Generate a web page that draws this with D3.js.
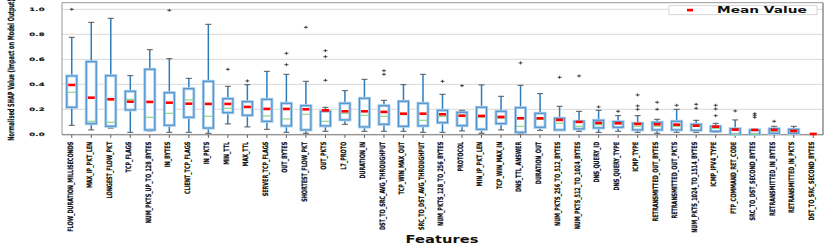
<!DOCTYPE html>
<html><head><meta charset="utf-8">
<script src="https://cdn.jsdelivr.net/npm/d3@7"></script>
<style>body{margin:0;background:#fff} svg{display:block}</style>
</head><body>
<svg id="chart" width="831" height="245"></svg>
<script>
const features = ["FLOW_DURATION_MILLISECONDS","MAX_IP_PKT_LEN","LONGEST_FLOW_PKT","TCP_FLAGS","NUM_PKTS_UP_TO_128_BYTES","IN_BYTES","CLIENT_TCP_FLAGS","IN_PKTS","MIN_TTL","MAX_TTL","SERVER_TCP_FLAGS","OUT_BYTES","SHORTEST_FLOW_PKT","OUT_PKTS","L7_PROTO","DURATION_IN","DST_TO_SRC_AVG_THROUGHPUT","TCP_WIN_MAX_OUT","SRC_TO_DST_AVG_THROUGHPUT","NUM_PKTS_128_TO_256_BYTES","PROTOCOL","MIN_IP_PKT_LEN","TCP_WIN_MAX_IN","DNS_TTL_ANSWER","DURATION_OUT","NUM_PKTS_256_TO_512_BYTES","NUM_PKTS_512_TO_1024_BYTES","DNS_QUERY_ID","DNS_QUERY_TYPE","ICMP_TYPE","RETRANSMITTED_OUT_BYTES","RETRANSMITTED_OUT_PKTS","NUM_PKTS_1024_TO_1514_BYTES","ICMP_IPV4_TYPE","FTP_COMMAND_RET_CODE","SRC_TO_DST_SECOND_BYTES","RETRANSMITTED_IN_BYTES","RETRANSMITTED_IN_PKTS","DST_TO_SRC_SECOND_BYTES"];
const whiskerLow  = [0.072,0.035,0.050,0.016,0.027,0.016,0.016,0.008,0.083,0.059,0.040,0.016,0.008,0.024,0.080,0.024,0.024,0.024,0.016,0.016,0.027,0.008,0.035,0.003,0.032,0.032,0.024,0.016,0.024,0.016,0.008,0.016,0.016,0.016,0.000,0.000,0.008,0.008,0.000];
const q1          = [0.216,0.085,0.064,0.195,0.035,0.072,0.136,0.050,0.173,0.152,0.104,0.067,0.035,0.067,0.115,0.059,0.080,0.064,0.067,0.093,0.069,0.040,0.085,0.016,0.056,0.035,0.043,0.051,0.056,0.035,0.035,0.035,0.032,0.024,0.000,0.000,0.008,0.008,0.000];
const medians     = [0.336,0.104,0.096,0.280,0.136,0.168,0.275,0.144,0.208,0.216,0.147,0.123,0.160,0.104,0.168,0.152,0.144,0.157,0.112,0.144,0.149,0.136,0.128,0.064,0.120,0.088,0.064,0.077,0.088,0.064,0.064,0.064,0.072,0.048,0.000,0.000,0.024,0.024,0.000];
const q3          = [0.467,0.581,0.469,0.344,0.520,0.333,0.365,0.424,0.285,0.261,0.280,0.248,0.229,0.184,0.248,0.288,0.229,0.264,0.248,0.192,0.176,0.216,0.184,0.213,0.168,0.128,0.104,0.112,0.101,0.088,0.096,0.104,0.080,0.064,0.045,0.035,0.045,0.040,0.000];
const whiskerHigh = [0.776,0.896,0.928,0.469,0.677,0.605,0.448,0.880,0.384,0.397,0.504,0.480,0.424,0.216,0.349,0.440,0.272,0.397,0.480,0.320,0.192,0.395,0.304,0.392,0.325,0.224,0.184,0.192,0.149,0.149,0.120,0.200,0.112,0.088,0.115,0.035,0.064,0.064,0.000];
const means       = [0.395,0.293,0.280,0.261,0.259,0.253,0.245,0.243,0.243,0.219,0.203,0.203,0.200,0.192,0.184,0.184,0.179,0.165,0.165,0.160,0.149,0.147,0.139,0.128,0.128,0.115,0.099,0.091,0.088,0.083,0.080,0.077,0.069,0.061,0.037,0.035,0.035,0.027,0.003];
const outliers    = [[1.0],[],[],[],[],[0.992],[],[],[0.52],[0.427],[],[0.557,0.648],[0.856],[0.432,0.621,0.669],[],[],[0.48,0.509],[],[],[0.424],[0.389],[],[],[0.571],[],[0.456],[0.467],[0.219],[0.184],[0.2,0.227,0.315],[0.2,0.256],[0.232],[0.208,0.24],[0.149,0.203,0.232],[0.187],[0.136,0.152,0.165],[0.104],[],[]];
const yTicks = [0.0,0.2,0.4,0.6,0.8,1.0];
const yTitle = "Normalised SHAP Value (Impact on Model Output)";
const xTitle = "Features";
const legendLabel = "Mean Value";

const svg = d3.select('#chart');
const L = 62, R = 823, T = 2.7, B = 134.8;
const y = d3.scaleLinear().domain([0, 1]).range([134.3, 9.3]);
const x = d3.scaleBand().domain(features).range([L, R]).padding(0);
const cx = f => x(f) + x.bandwidth() / 2;

// grid
svg.append('g').selectAll('line').data(yTicks).join('line')
  .attr('x1', L).attr('x2', R).attr('y1', d => y(d)).attr('y2', d => y(d))
  .attr('stroke', '#d9d9d9').attr('stroke-width', 1);

// y axis labels
const yAxis = svg.append('g').attr('transform', `translate(${L},0)`)
  .call(d3.axisLeft(y).tickValues(yTicks).tickFormat(d3.format('.1f')).tickSize(0));
yAxis.select('.domain').remove();
yAxis.selectAll('text').attr('x', null).attr('dy', '0.32em')
  .attr('transform', 'translate(-17,0) scale(1.05,0.58)')
  .attr('font-family', 'DejaVu Sans').attr('font-weight', 'bold').attr('font-size', 8)
  .attr('letter-spacing', 0.3)
  .attr('fill', '#111').attr('stroke', '#111').attr('stroke-width', 0.25).attr('text-anchor', 'end');

// x axis
const xAxis = svg.append('g').attr('transform', `translate(0,${B})`)
  .call(d3.axisBottom(x).tickSize(3));
xAxis.select('.domain').remove();
xAxis.selectAll('line').attr('stroke', '#555');
xAxis.selectAll('text').attr('y', null).attr('dy', '0.1em')
  .attr('transform', 'translate(0,7) scale(1,0.66) rotate(-90)')
  .attr('text-anchor', 'end')
  .attr('font-family', 'DejaVu Sans').attr('font-weight', 'bold').attr('font-size', 7.4)
  .attr('fill', '#111').attr('stroke', '#111').attr('stroke-width', 0.2);

// frame
svg.append('line').attr('x1', L).attr('x2', L).attr('y1', T).attr('y2', B).attr('stroke', '#999');
svg.append('line').attr('x1', L).attr('x2', R).attr('y1', T).attr('y2', T).attr('stroke', '#999');
svg.append('line').attr('x1', R).attr('x2', R).attr('y1', T).attr('y2', B).attr('stroke', '#555');
svg.append('line').attr('x1', L).attr('x2', R).attr('y1', B).attr('y2', B).attr('stroke', '#777');

// boxes
const rows = features.map((f, i) => ({f, lo: whiskerLow[i], q1: q1[i], med: medians[i], q3: q3[i], hi: whiskerHigh[i], mean: means[i], out: outliers[i]}));
const g = svg.append('g').selectAll('g').data(rows).join('g');
const bw = 10;
g.append('line').attr('x1', d => cx(d.f)).attr('x2', d => cx(d.f))
  .attr('y1', d => y(d.lo)).attr('y2', d => y(d.q1)).attr('stroke', '#2d7dbd').attr('stroke-width', 1.5);
g.append('line').attr('x1', d => cx(d.f)).attr('x2', d => cx(d.f))
  .attr('y1', d => y(d.q3)).attr('y2', d => y(d.hi)).attr('stroke', '#2d7dbd').attr('stroke-width', 1.5);
g.append('line').attr('x1', d => cx(d.f) - 3).attr('x2', d => cx(d.f) + 3)
  .attr('y1', d => y(d.hi)).attr('y2', d => y(d.hi)).attr('stroke', '#555').attr('stroke-width', 1);
g.append('line').attr('x1', d => cx(d.f) - 3).attr('x2', d => cx(d.f) + 3)
  .attr('y1', d => y(d.lo)).attr('y2', d => y(d.lo)).attr('stroke', '#555').attr('stroke-width', 1);
g.append('rect').attr('x', d => cx(d.f) - bw / 2).attr('width', bw)
  .attr('y', d => y(d.q3)).attr('height', d => y(d.q1) - y(d.q3))
  .attr('fill', 'white').attr('stroke', '#aacdeb').attr('stroke-width', 3);
g.append('rect').attr('x', d => cx(d.f) - bw / 2).attr('width', bw)
  .attr('y', d => y(d.q3)).attr('height', d => y(d.q1) - y(d.q3))
  .attr('fill', 'none').attr('stroke', '#4a90cc').attr('stroke-width', 1.1);
g.append('line').attr('x1', d => cx(d.f) - 4.5).attr('x2', d => cx(d.f) + 4.5)
  .attr('y1', d => y(d.med)).attr('y2', d => y(d.med)).attr('stroke', '#8fd48f').attr('stroke-width', 1.2);
g.append('rect').attr('x', d => cx(d.f) - 3.5).attr('width', 7)
  .attr('y', d => y(d.mean) - 1.3).attr('height', 2.6).attr('fill', '#ff0000');
g.each(function(d) {
  d3.select(this).selectAll('path.out').data(d.out).join('path').attr('class', 'out')
    .attr('d', v => `M${cx(d.f) - 2},${y(v)}h4M${cx(d.f)},${y(v) - 1.5}v3`)
    .attr('stroke', '#333').attr('stroke-width', 0.9).attr('fill', 'none');
});

// axis titles
svg.append('text').text(yTitle)
  .attr('transform', 'translate(14,70) scale(1,0.59) rotate(-90)')
  .attr('text-anchor', 'middle').attr('font-family', 'DejaVu Sans').attr('font-weight', 'bold')
  .attr('font-size', 8.5).attr('fill', '#111').attr('stroke', '#111').attr('stroke-width', 0.2);
svg.append('text').text(xTitle)
  .attr('transform', 'translate(442,243) scale(1.4,1)')
  .attr('text-anchor', 'middle').attr('font-family', 'DejaVu Sans').attr('font-weight', 'bold')
  .attr('font-size', 10.5).attr('fill', '#111');

// legend
svg.append('rect').attr('x', 669).attr('y', 5.7).attr('width', 148).attr('height', 9)
  .attr('fill', 'white').attr('stroke', '#ccc').attr('stroke-width', 0.8);
svg.append('rect').attr('x', 687).attr('y', 8.8).attr('width', 6).attr('height', 2.6).attr('fill', '#ff0000');
svg.append('text').text(legendLabel)
  .attr('transform', 'translate(717,12.8) scale(1.62,0.95)')
  .attr('font-family', 'DejaVu Sans').attr('font-weight', 'bold').attr('font-size', 8.5).attr('fill', '#111');
</script>
</body></html>
